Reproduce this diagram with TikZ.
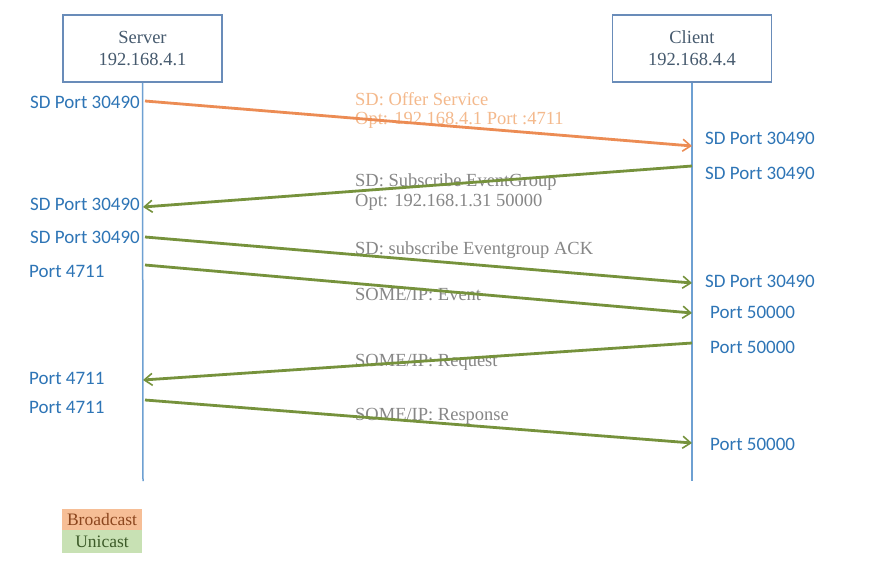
\documentclass[tikz,border=0pt]{standalone}
\usepackage{fontspec}
\setmainfont{Liberation Serif}
\newfontfamily\portfont{Carlito}
\usetikzlibrary{arrows.meta}
\definecolor{arrOrange}{RGB}{236,140,84}
\definecolor{arrGreen}{RGB}{118,146,60}
\definecolor{portBlue}{RGB}{46,117,182}
\definecolor{lifeBlue}{RGB}{110,160,210}
\definecolor{boxBorder}{RGB}{105,140,185}
\definecolor{boxText}{RGB}{70,90,110}
\definecolor{msgGray}{RGB}{135,135,135}
\definecolor{msgOrange}{RGB}{244,185,140}
\definecolor{bcFill}{RGB}{246,190,150}
\definecolor{bcText}{RGB}{140,70,30}
\definecolor{ucFill}{RGB}{200,225,180}
\definecolor{ucText}{RGB}{60,90,40}
\tikzset{
  hostbox/.style={draw=boxBorder, line width=1.8pt, fill=white, minimum width=159pt, minimum height=67pt, inner sep=0pt, align=center, text=boxText, font=\fontsize{18.5}{22}\selectfont},
  lifeline/.style={draw=lifeBlue, line width=1.5pt},
  portlbl/.style={text=portBlue, font=\portfont\fontsize{19}{21}\selectfont, inner sep=0pt},
  msgarrow/.style={line width=2.8pt, -{Straight Barb[length=8pt,width=12pt,line width=1.6pt]}},
  bcast/.style={msgarrow, draw=arrOrange},
  ucast/.style={msgarrow, draw=arrGreen},
  msglbl/.style={anchor=west, inner sep=0pt, text=msgGray, font=\fontsize{18.5}{21}\selectfont, align=left},
  legendbox/.style={minimum width=80pt, inner sep=0pt, font=\fontsize{17.5}{19}\selectfont}
}
\begin{document}
\begin{tikzpicture}[x=1pt,y=-1pt]
\useasboundingbox (0,0) rectangle (890,567);
\fill[white] (0,0) rectangle (890,567);

% hosts
\node[hostbox] (server) at (142.5,48.5) {Server\\192.168.4.1};
\node[hostbox] (client) at (692,48.5) {Client\\192.168.4.4};
\coordinate (send) at (143,481);
\coordinate (cend) at (692,481);
\draw[lifeline] (server.south) -- (send);
\draw[lifeline] (client.south) -- (cend);

% endpoints on lifelines
\coordinate (s1) at (145,101);
\coordinate (c1) at (692,146);
\coordinate (c2) at (692,166);
\coordinate (s2) at (143,207);
\coordinate (s3) at (145,237);
\coordinate (c3) at (692,283);
\coordinate (s4) at (145,265);
\coordinate (c4) at (692,313);
\coordinate (c5) at (692,343);
\coordinate (s5) at (143,380);
\coordinate (s6) at (145,400);
\coordinate (c6) at (692,443);

% server-side port labels
\node[portlbl, anchor=east] (ps1) at (140,102) {SD Port 30490};
\node[portlbl, anchor=east] (ps2) at (140,204) {SD Port 30490};
\node[portlbl, anchor=east] (ps3) at (140,237) {SD Port 30490};
\node[portlbl, anchor=west] (ps4) at (29,271) {Port 4711};
\node[portlbl, anchor=west] (ps5) at (29,378) {Port 4711};
\node[portlbl, anchor=west] (ps6) at (29,407) {Port 4711};

% client-side port labels
\node[portlbl, anchor=west] (pc1) at (705,138) {SD Port 30490};
\node[portlbl, anchor=west] (pc2) at (705,173) {SD Port 30490};
\node[portlbl, anchor=west] (pc3) at (705,281) {SD Port 30490};
\node[portlbl, anchor=west] (pc4) at (710,312) {Port 50000};
\node[portlbl, anchor=west] (pc5) at (710,347) {Port 50000};
\node[portlbl, anchor=west] (pc6) at (710,444) {Port 50000};

% message labels (behind arrows)
\node[msglbl, text=msgOrange] (m1a) at (355,99) {SD: Offer Service};
\node[msglbl, text=msgOrange] (m1b) at (355,120) {Opt: 192.168.4.1 Port :4711};
\node[msglbl] (m2a) at (355,182) {SD: Subscribe EventGroup};
\node[msglbl] (m2b) at (355,202) {Opt: 192.168.1.31 50000};
\node[msglbl] (m3) at (355,250) {SD: subscribe Eventgroup ACK};
\node[msglbl] (m4) at (355,295) {SOME/IP: Event};
\node[msglbl] (m5) at (355,362) {SOME/IP: Request};
\node[msglbl] (m6) at (355,416) {SOME/IP: Response};

% messages
\draw[bcast] (s1) -- (c1);
\draw[ucast] (c2) -- (s2);
\draw[ucast] (s3) -- (c3);
\draw[ucast] (s4) -- (c4);
\draw[ucast] (c5) -- (s5);
\draw[ucast] (s6) -- (c6);

% legend
\node[legendbox, fill=bcFill, text=bcText, minimum height=21pt] (bc) at (102,519.5) {Broadcast};
\node[legendbox, fill=ucFill, text=ucText, minimum height=23pt, anchor=north] (uc) at (bc.south) {Unicast};
\end{tikzpicture}
\end{document}
